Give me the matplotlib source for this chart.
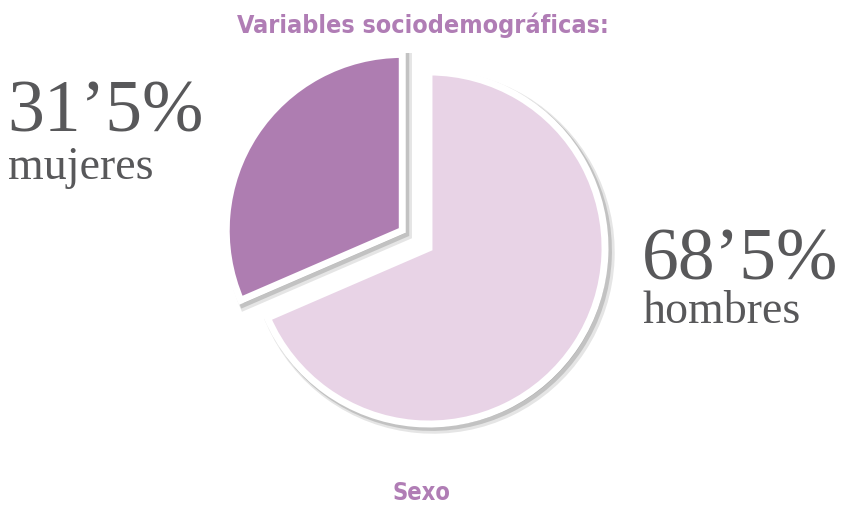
import matplotlib.pyplot as plt
import matplotlib.patheffects as pe

# datos
etiquetas = ['mujeres', 'hombres']
valores = [31.5, 68.5]
textos_pct = ['31’5%', '68’5%']
colores = ['#ae7db1', '#e8d3e6']
separacion = [32, 0]  # en las mismas unidades que el radio

fig = plt.figure(figsize=(8.41, 5.08), dpi=100)
ax = fig.add_axes([0, 0, 1, 1])

wedges, _ = ax.pie(valores, colors=colores, explode=separacion, startangle=90,
                   counterclock=True, radius=176, center=(429, 260),
                   wedgeprops=dict(edgecolor='white', linewidth=5))
ax.set_xlim(0, 841)
ax.set_ylim(0, 508)
ax.set_aspect('equal')
ax.axis('off')

# sombra suave por debajo del borde blanco
sombra = [pe.SimpleLineShadow(offset=(3, -3), shadow_color='black', alpha=0.10, linewidth=8),
          pe.SimpleLineShadow(offset=(2, -2), shadow_color='black', alpha=0.15, linewidth=6),
          pe.SimplePatchShadow(offset=(2, -2), shadow_rgbFace='black', alpha=0.15),
          pe.Normal()]
for w in wedges:
    w.set_path_effects(sombra)

gris = '#58585a'
serif = 'Liberation Serif'
ax.text(7, 376, textos_pct[0], fontsize=53, family=serif, color=gris, ha='left', va='baseline')
ax.text(8, 329, etiquetas[0], fontsize=33, family=serif, color=gris, ha='left', va='baseline')
ax.text(642, 229, textos_pct[1], fontsize=53, family=serif, color=gris, ha='left', va='baseline')
ax.text(643, 185, etiquetas[1], fontsize=33, family=serif, color=gris, ha='left', va='baseline')

morado = '#b07db5'
fig.text(423 / 841, 1 - 25 / 508, 'Variables sociodemográficas:', fontsize=18, fontweight='bold',
         family='DejaVu Sans', fontstretch='condensed', color=morado, ha='center', va='center')
fig.text(421 / 841, 1 - 493 / 508, 'Sexo', fontsize=17, fontweight='bold',
         family='DejaVu Sans', fontstretch='condensed', color=morado, ha='center', va='center')

fig.savefig('out.png', dpi=100)
